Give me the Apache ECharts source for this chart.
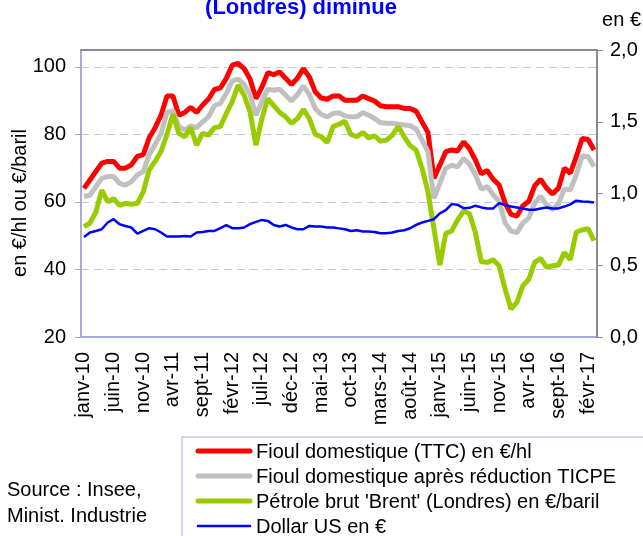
<!DOCTYPE html>
<html>
<head>
<meta charset="utf-8">
<script src="https://cdn.jsdelivr.net/npm/echarts@6/dist/echarts.min.js"></script>
<style>
  html, body { margin: 0; padding: 0; background: #fff; }
  #chart { width: 643px; height: 536px; }
</style>
</head>
<body>
<div id="chart"></div>
<script>
// mois, janv-10 -> mars-17
const months = [
  "janv-10","févr-10","mars-10","avr-10","mai-10","juin-10","juil-10","août-10","sept-10","oct-10","nov-10","déc-10",
  "janv-11","févr-11","mars-11","avr-11","mai-11","juin-11","juil-11","août-11","sept-11","oct-11","nov-11","déc-11",
  "janv-12","févr-12","mars-12","avr-12","mai-12","juin-12","juil-12","août-12","sept-12","oct-12","nov-12","déc-12",
  "janv-13","févr-13","mars-13","avr-13","mai-13","juin-13","juil-13","août-13","sept-13","oct-13","nov-13","déc-13",
  "janv-14","févr-14","mars-14","avr-14","mai-14","juin-14","juil-14","août-14","sept-14","oct-14","nov-14","déc-14",
  "janv-15","févr-15","mars-15","avr-15","mai-15","juin-15","juil-15","août-15","sept-15","oct-15","nov-15","déc-15",
  "janv-16","févr-16","mars-16","avr-16","mai-16","juin-16","juil-16","août-16","sept-16","oct-16","nov-16","déc-16",
  "janv-17","févr-17","mars-17"
];

// Fioul domestique (TTC) en €/hl
const fioulTTC = [
  64, 66.5, 69, 71.5, 72, 72, 70, 70, 71, 73.5, 74,
  79, 82, 85.7, 91.4, 91.4, 85.7, 86.5, 88, 86.5, 88.7,
  90.5, 93.3, 93.8, 96.6, 100.5, 101, 99.5, 96.4, 90.6, 94,
  98.3, 97.7, 98.5, 96.6, 94.8, 96.7, 99.5, 97, 92.6, 90.8,
  90.4, 91.4, 91.4, 90.1, 90.1, 90.1, 91.4, 90.6, 89.9, 88.5,
  88.2, 88.2, 88.2, 87.7, 87.7, 86.9, 83.7, 80.6, 67, 70.9,
  74.9, 75.4, 75.1, 77.8, 75.8, 72.4, 68.3, 69.3, 66.7, 65,
  59.7, 56.3, 55.8, 58.9, 60.2, 64.8, 66.7, 64.1, 62.4, 64.1,
  70, 68.5, 73.4, 78.8, 78.5, 75.4
];

// Fioul domestique après réduction TICPE
const fioulReduit = [
  61.6, 62, 64.5, 67, 67.5, 67.5, 65.5, 65, 66, 68, 69,
  74, 77, 80.3, 86.5, 87, 82.3, 81.3, 82.5, 82, 83.7,
  85.2, 88.5, 89.2, 92.1, 95.8, 96.4, 94.8, 91.8, 85.7, 89.7,
  93.4, 93.1, 93.4, 91.6, 89.9, 91.8, 94.4, 91.8, 87.7, 85.9,
  85.2, 86.2, 86.4, 85.5, 85.2, 85.2, 86.5, 85.7, 84.7, 83.5,
  83.3, 83.3, 83, 82.8, 82.6, 81.6, 78.3, 74.9, 61.1, 65.5,
  70, 70.9, 70.4, 72.9, 71.2, 68, 63.8, 64.6, 62.1, 60.2,
  53.8, 51.4, 50.9, 53.8, 55.3, 59.7, 61.7, 59.2, 57.7, 59.5,
  63.8, 63.6, 68, 73.6, 73.4, 70.5
];

// Pétrole brut 'Brent' (Londres) en €/baril
const brent = [
  52.7, 53.7, 57, 63.5, 60, 61, 59, 59.6, 59.3, 59.6, 63,
  69.5, 72, 75, 80, 86, 80.3, 79.3, 82, 76.8, 80.3,
  79.8, 82, 82.3, 86.2, 89.7, 94.6, 91.6, 86.7, 76.8, 84.7,
  90.6, 88.5, 86.5, 85.2, 83.3, 84.7, 87.4, 84.7, 80, 79.3,
  77.6, 82.3, 83, 83.9, 80, 79.3, 80.6, 79, 79.6, 78,
  78.3, 79.8, 82.3, 79.3, 76.7, 75.4, 70, 63, 52.2, 41.3,
  50.7, 51.4, 54.7, 57.3, 56.5, 50.9, 42.3, 42.1, 42.9, 41.1,
  34.2, 28.3, 30.3, 35.2, 37.1, 42.1, 43.3, 40.6, 41.1, 41.3,
  45, 42.9, 51.1, 51.7, 52.1, 48.5
];

// Dollar US en € (axe de droite)
const dollar = [
  0.697, 0.728, 0.739, 0.751, 0.798, 0.821, 0.786, 0.774, 0.763, 0.720, 0.739,
  0.758, 0.751, 0.728, 0.700, 0.700, 0.700, 0.704, 0.700, 0.728, 0.732,
  0.739, 0.739, 0.758, 0.779, 0.758, 0.758, 0.763, 0.786, 0.802, 0.816,
  0.809, 0.781, 0.770, 0.781, 0.763, 0.751, 0.751, 0.774, 0.770, 0.770,
  0.763, 0.763, 0.757, 0.751, 0.739, 0.744, 0.735, 0.735, 0.732, 0.723,
  0.723, 0.728, 0.739, 0.744, 0.758, 0.781, 0.798, 0.809, 0.821, 0.861,
  0.884, 0.926, 0.921, 0.898, 0.900, 0.915, 0.903, 0.896, 0.896, 0.933,
  0.919, 0.909, 0.903, 0.896, 0.887, 0.887, 0.896, 0.903, 0.896, 0.896,
  0.909, 0.924, 0.950, 0.945, 0.942, 0.937
];

const seriesNames = [
  "Fioul domestique (TTC) en €/hl",
  "Fioul domestique après réduction TICPE",
  "Pétrole brut 'Brent' (Londres) en €/baril",
  "Dollar US en €"
];
const seriesColors = ["#ff0000", "#c0c0c0", "#99cc00", "#0000ff"];
const seriesWidths = [5, 5, 5, 2.5];

const font = "Liberation Sans, Arial, sans-serif";
const axisColor = "#a9a9dc";
const frameColor = "#8c8c8c";

var myChart = echarts.init(document.getElementById("chart"));

// légende dessinée à la main (encadré en bas à droite)
var legendGraphics = [
  {
    type: "rect",
    z: 10,
    shape: { x: 182, y: 437, width: 480, height: 130 },
    style: { fill: "#fff", stroke: "#c8c8f0", lineWidth: 1.5 },
  },
];
for (let i = 0; i < seriesNames.length; i++) {
  const cy = 452 + i * 25;
  legendGraphics.push({
    type: "line",
    z: 11,
    shape: { x1: 198, y1: cy - 1, x2: 250, y2: cy - 1 },
    style: { stroke: seriesColors[i], lineWidth: seriesWidths[i], lineCap: "round" },
  });
  legendGraphics.push({
    type: "text",
    z: 11,
    x: 256,
    y: cy,
    style: {
      text: seriesNames[i],
      fill: "#000",
      font: "20px " + font,
      textVerticalAlign: "middle",
    },
  });
}

var option = {
  backgroundColor: "#ffffff",
  animation: false,
  textStyle: { fontFamily: font },
  grid: {
    left: 81,
    right: 46,
    top: 50,
    bottom: 199,
    containLabel: false,
  },
  xAxis: [
    {
      type: "category",
      data: months,
      boundaryGap: true,
      axisLine: { lineStyle: { color: axisColor, width: 2 } },
      axisTick: { interval: 4, length: 5, lineStyle: { color: axisColor } },
      axisLabel: {
        interval: 4,
        rotate: 90,
        margin: 15,
        color: "#000",
        fontSize: 20,
        fontFamily: font,
      },
      splitLine: { show: false },
    },
    {
      // bord supérieur du cadre
      type: "category",
      data: months,
      position: "top",
      z: 5,
      axisLine: { lineStyle: { color: frameColor, width: 2 } },
      axisTick: { show: false },
      axisLabel: { show: false },
      splitLine: { show: false },
    },
  ],
  yAxis: [
    {
      type: "value",
      min: 20,
      max: 105,
      interval: 20,
      axisLine: { show: true, lineStyle: { color: axisColor, width: 2 } },
      axisTick: { show: true, length: 6, lineStyle: { color: axisColor } },
      axisLabel: { showMaxLabel: false, margin: 15, color: "#000", fontSize: 20, fontFamily: font },
      splitLine: {
        show: true,
        lineStyle: { color: "#c4c4f2", type: [8, 5], width: 1 },
      },
    },
    {
      type: "value",
      min: 0,
      max: 2,
      interval: 0.5,
      position: "right",
      z: 5,
      axisLine: { show: true, lineStyle: { color: frameColor, width: 2 } },
      axisTick: { show: true, length: 6, lineStyle: { color: frameColor } },
      axisLabel: {
        margin: 13,
        color: "#000",
        fontSize: 20,
        fontFamily: font,
        formatter: function (v) { return v.toFixed(1).replace(".", ","); },
      },
      splitLine: { show: false },
    },
  ],
  series: [
    { name: seriesNames[0], type: "line", data: fioulTTC, symbol: "none",
      color: seriesColors[0], lineStyle: { width: seriesWidths[0] } },
    { name: seriesNames[1], type: "line", data: fioulReduit, symbol: "none",
      color: seriesColors[1], lineStyle: { width: seriesWidths[1] } },
    { name: seriesNames[2], type: "line", data: brent, symbol: "none",
      color: seriesColors[2], lineStyle: { width: seriesWidths[2] } },
    { name: seriesNames[3], type: "line", yAxisIndex: 1, data: dollar, symbol: "none",
      color: seriesColors[3], lineStyle: { width: seriesWidths[3] } },
  ],
  graphic: [
    {
      type: "text",
      x: 301,
      y: 8,
      style: {
        text: "(Londres) diminue",
        fill: "#0000ff",
        font: "bold 22px " + font,
        textAlign: "center",
        textVerticalAlign: "middle",
      },
    },
    {
      type: "text",
      x: 641,
      y: 20,
      style: {
        text: "en €",
        fill: "#000",
        font: "20px " + font,
        textAlign: "right",
        textVerticalAlign: "middle",
      },
    },
    {
      type: "text",
      x: 20,
      y: 203,
      rotation: Math.PI / 2,
      style: {
        text: "en €/hl ou €/baril",
        fill: "#000",
        font: "20px " + font,
        textAlign: "center",
        textVerticalAlign: "middle",
      },
    },
    {
      type: "text",
      x: 7,
      y: 490,
      style: {
        text: "Source : Insee,",
        fill: "#000",
        font: "20px " + font,
        textVerticalAlign: "middle",
      },
    },
    {
      type: "text",
      x: 7,
      y: 516,
      style: {
        text: "Minist. Industrie",
        fill: "#000",
        font: "20px " + font,
        textVerticalAlign: "middle",
      },
    },
  ].concat(legendGraphics),
};

myChart.setOption(option);
</script>
</body>
</html>
